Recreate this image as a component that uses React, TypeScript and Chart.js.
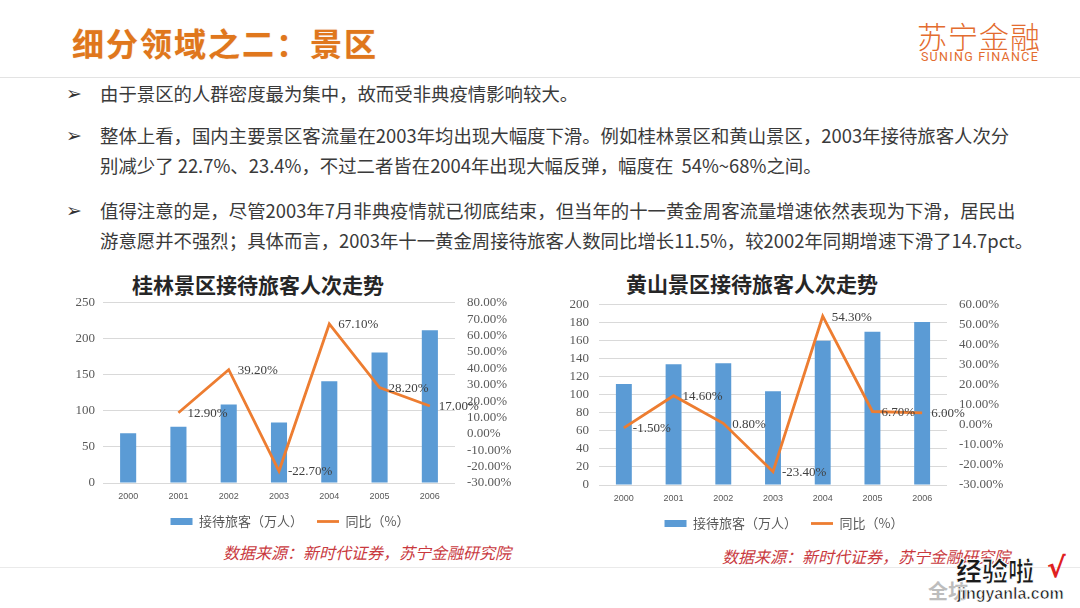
import React, { useEffect, useRef } from "react";
import { Chart, registerables } from "chart.js";

Chart.register(...registerables);

// ---------- data ----------
const years = ["2000", "2001", "2002", "2003", "2004", "2005", "2006"];
const guilinVisitors = [69, 78, 109, 84, 141, 181, 212];
const guilinGrowth: (number | null)[] = [null, 12.9, 39.2, -22.7, 67.1, 28.2, 17.0];
const huangshanVisitors = [112, 134, 135, 104, 160, 170, 181];
const huangshanGrowth: (number | null)[] = [-1.5, 14.6, 0.8, -23.4, 54.3, 6.7, 6.0];
const barLabel = "接待旅客（万人）";
const lineLabel = "同比（%）";
const guilinTitle = "桂林景区接待旅客人次走势";
const huangshanTitle = "黄山景区接待旅客人次走势";
const sourceText = "数据来源：新时代证券，苏宁金融研究院";
const bullets = [
  ["由于景区的人群密度最为集中，故而受非典疫情影响较大。"],
  [
    "整体上看，国内主要景区客流量在2003年均出现大幅度下滑。例如桂林景区和黄山景区，2003年接待旅客人次分",
    "别减少了 22.7%、23.4%，不过二者皆在2004年出现大幅反弹，幅度在  54%~68%之间。",
  ],
  [
    "值得注意的是，尽管2003年7月非典疫情就已彻底结束，但当年的十一黄金周客流量增速依然表现为下滑，居民出",
    "游意愿并不强烈；具体而言，2003年十一黄金周接待旅客人数同比增长11.5%，较2002年同期增速下滑了14.7pct。",
  ],
];

const SERIF = "'Liberation Serif', 'Times New Roman', serif";
const SANS = "'Liberation Sans', Arial, sans-serif";
const CJK = "'Noto Sans CJK SC', 'Noto Sans', sans-serif";

const pctLabelPlugin = {
  id: "pctLabels",
  afterDatasetsDraw(chart: any) {
    const ctx = chart.ctx;
    const meta = chart.getDatasetMeta(1);
    const ds = chart.data.datasets[1];
    ctx.save();
    ctx.font = `13px ${SERIF}`;
    ctx.fillStyle = "#404040";
    ctx.textAlign = "left";
    ctx.textBaseline = "middle";
    meta.data.forEach((el: any, i: number) => {
      const v = ds.data[i];
      if (v == null) return;
      ctx.fillText(v.toFixed(2) + "%", el.x + 9, el.y + 1);
    });
    ctx.restore();
  },
};

type ComboProps = {
  bars: number[];
  growth: (number | null)[];
  yMax: number;
  yStep: number;
  y1Min: number;
  y1Max: number;
  leftW: number;
  rightW: number;
  leftPad: number;
  width: number;
  height: number;
  left: number;
  top: number;
};

function ComboChart(p: ComboProps) {
  const ref = useRef<HTMLCanvasElement | null>(null);
  useEffect(() => {
    if (!ref.current) return;
    const chart = new Chart(ref.current, {
      type: "bar",
      data: {
        labels: years,
        datasets: [
          {
            type: "bar",
            label: barLabel,
            data: p.bars,
            backgroundColor: "#5B9BD5",
            categoryPercentage: 1,
            barPercentage: 0.32,
            yAxisID: "y",
            order: 1,
            pointStyle: "rect",
          } as any,
          {
            type: "line",
            label: lineLabel,
            data: p.growth,
            borderColor: "#ED7D31",
            backgroundColor: "#ED7D31",
            borderWidth: 2.8,
            pointRadius: 0,
            pointHoverRadius: 0,
            tension: 0,
            yAxisID: "y1",
            order: 0,
            pointStyle: "line",
          } as any,
        ],
      },
      options: {
        responsive: false,
        maintainAspectRatio: false,
        animation: false,
        devicePixelRatio: 1,
        layout: { padding: { top: 7, left: 0, right: 0, bottom: 0 } },
        plugins: {
          tooltip: { enabled: false },
          title: { display: false },
          legend: {
            display: true,
            position: "bottom",
            labels: {
              usePointStyle: true,
              pointStyleWidth: 22,
              boxHeight: 7,
              padding: 14,
              color: "#595959",
              font: { family: CJK, size: 13 },
              sort: (a: any, b: any) => a.datasetIndex - b.datasetIndex,
            },
          },
        },
        scales: {
          x: {
            grid: { display: false, drawTicks: false },
            border: { display: false },
            ticks: {
              color: "#595959",
              font: { family: SANS, size: 9 },
              padding: 8,
              maxRotation: 0,
              autoSkip: false,
            },
            afterFit(scale: any) {
              scale.height = 18;
            },
          },
          y: {
            position: "left",
            min: 0,
            max: p.yMax,
            grid: { color: "#D9D9D9", drawTicks: false, lineWidth: 1 },
            border: { display: false },
            ticks: {
              stepSize: p.yStep,
              autoSkip: false,
              color: "#595959",
              font: { family: SERIF, size: 13 },
              padding: p.leftPad,
            },
            afterFit(scale: any) {
              scale.width = p.leftW;
            },
          },
          y1: {
            position: "right",
            min: p.y1Min,
            max: p.y1Max,
            grid: { display: false, drawTicks: false },
            border: { display: false },
            ticks: {
              stepSize: 10,
              autoSkip: false,
              color: "#595959",
              font: { family: SERIF, size: 13 },
              padding: 12,
              callback: (v: any) => Number(v).toFixed(2) + "%",
            },
            afterFit(scale: any) {
              scale.width = p.rightW;
            },
          },
        },
      } as any,
      plugins: [pctLabelPlugin],
    });
    return () => chart.destroy();
  }, []);
  return (
    <canvas
      ref={ref}
      width={p.width}
      height={p.height}
      style={{ position: "absolute", left: p.left, top: p.top, width: p.width, height: p.height }}
    />
  );
}

export default function App() {
  const abs = (s: React.CSSProperties): React.CSSProperties => ({ position: "absolute", margin: 0, ...s });
  const bulletTop = [93, 135, 210];
  const lineTops = [[93], [135, 165], [210, 240]];
  return (
    <div
      style={{
        position: "absolute",
        left: 0,
        top: 0,
        width: 1080,
        height: 608,
        background: "#ffffff",
        overflow: "hidden",
        fontFamily: CJK,
      }}
    >
      {/* header */}
      <div
        style={abs({
          left: 72,
          top: 22,
          fontSize: 32,
          lineHeight: "40px",
          fontWeight: 700,
          letterSpacing: 2,
          color: "#E0771C",
          whiteSpace: "nowrap",
          textShadow: "0 0 1px rgba(200,100,20,0.4)",
        })}
      >
        细分领域之二：景区
      </div>
      <div
        style={abs({
          left: 914,
          top: 17,
          width: 130,
          textAlign: "center",
          fontSize: 30,
          lineHeight: "36px",
          fontWeight: 300,
          color: "#E36C2F",
          letterSpacing: 1,
          whiteSpace: "nowrap",
        })}
      >
        苏宁金融
      </div>
      <div
        style={abs({
          left: 908,
          top: 50,
          width: 144,
          textAlign: "center",
          fontSize: 12.5,
          lineHeight: "14px",
          color: "#E36C2F",
          fontFamily: "Roboto, 'Liberation Sans', sans-serif",
          letterSpacing: 1.3,
          whiteSpace: "nowrap",
        })}
      >
        SUNING FINANCE
      </div>
      <div style={abs({ left: 0, top: 77, width: 1080, height: 1, background: "#E3E3E3" })} />

      {/* bullets */}
      {bulletTop.map((t, i) => (
        <div
          key={"b" + i}
          style={abs({
            left: 66,
            top: t - 13,
            fontSize: 19,
            lineHeight: "26px",
            color: "#333333",
            fontFamily: "'DejaVu Sans', sans-serif",
          })}
        >
          ➢
        </div>
      ))}
      {bullets.map((lines, i) =>
        lines.map((ln, j) => (
          <div
            key={"t" + i + "-" + j}
            style={abs({
              left: 100,
              top: lineTops[i][j] - 12,
              fontSize: 18.4,
              lineHeight: "24px",
              color: "#3A3A3A",
              whiteSpace: "pre",
            })}
          >
            {ln}
          </div>
        ))
      )}

      {/* chart titles */}
      <div
        style={abs({
          left: 108,
          top: 272,
          width: 300,
          textAlign: "center",
          fontSize: 21,
          lineHeight: "24px",
          fontWeight: 700,
          color: "#262626",
        })}
      >
        {guilinTitle}
      </div>
      <div
        style={abs({
          left: 602,
          top: 271,
          width: 300,
          textAlign: "center",
          fontSize: 21,
          lineHeight: "24px",
          fontWeight: 700,
          color: "#262626",
        })}
      >
        {huangshanTitle}
      </div>

      <ComboChart
        bars={guilinVisitors}
        growth={guilinGrowth}
        yMax={250}
        yStep={50}
        y1Min={-30}
        y1Max={80}
        leftW={53}
        rightW={75}
        leftPad={8}
        width={480}
        height={255}
        left={50}
        top={283}
      />
      <ComboChart
        bars={huangshanVisitors}
        growth={huangshanGrowth}
        yMax={200}
        yStep={20}
        y1Min={-30}
        y1Max={60}
        leftW={39}
        rightW={61}
        leftPad={10}
        width={448}
        height={255}
        left={560}
        top={285}
      />

      {/* sources */}
      <div
        style={abs({
          left: 223,
          top: 541,
          fontSize: 16,
          lineHeight: "22px",
          fontStyle: "italic",
          color: "#C9393E",
          whiteSpace: "nowrap",
        })}
      >
        {sourceText}
      </div>
      <div
        style={abs({
          left: 722,
          top: 545,
          fontSize: 16,
          lineHeight: "22px",
          fontStyle: "italic",
          color: "#C9393E",
          whiteSpace: "nowrap",
        })}
      >
        {sourceText}
      </div>
      <div style={abs({ left: 0, top: 567, width: 1080, height: 1, background: "#EAEAEA" })} />

      {/* watermark */}
      <div
        style={abs({
          left: 928,
          top: 579,
          fontSize: 20,
          lineHeight: "24px",
          color: "#BDBDBD",
          fontWeight: 700,
          whiteSpace: "nowrap",
        })}
      >
        全坊
      </div>
      <div
        style={abs({
          left: 956,
          top: 555,
          fontSize: 26,
          lineHeight: "30px",
          fontWeight: 900,
          color: "#1a1a1a",
          WebkitTextStroke: "1px #ffffff",
          whiteSpace: "nowrap",
        })}
      >
        经验啦
      </div>
      <div
        style={abs({
          left: 1047,
          top: 552,
          fontSize: 28,
          lineHeight: "32px",
          fontWeight: 900,
          color: "#E02020",
          fontFamily: "'DejaVu Sans', sans-serif",
        })}
      >
        √
      </div>
      <div
        style={abs({
          left: 957,
          top: 584,
          fontSize: 16,
          lineHeight: "20px",
          fontWeight: 700,
          color: "#1a1a1a",
          fontFamily: "'Liberation Sans', Arial, sans-serif",
          WebkitTextStroke: "0.6px #ffffff",
          whiteSpace: "nowrap",
        })}
      >
        jingyanla.com
      </div>
    </div>
  );
}
